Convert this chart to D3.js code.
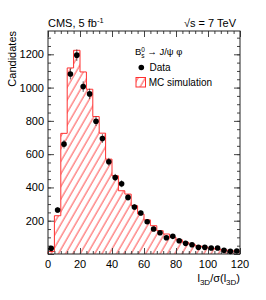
<!DOCTYPE html>
<html>
<head>
<meta charset="utf-8">
<style>
body { margin: 0; background: #fff; }
text { font-family: "Liberation Sans", Arial, sans-serif; fill: #000; }
.axis path { display: none; }
.axis line { stroke: #444; stroke-width: 1px; }
</style>
</head>
<body>
<script src="https://cdn.jsdelivr.net/npm/d3@7"></script>
<script>

// bin lower edges (width 4)
const binLow = [0,4,8,12,16,20,24,28,32,36,40,44,48,52,56,60,64,68,72,76,80,84,88,92,96,100,104,108,112,116];
const binWidth = 4;
// data points
const dataCounts = [34,264,660,1082,1195,1006,962,798,694,554,460,422,340,282,246,194,150,128,98,106,80,64,56,40,40,36,36,22,16,18];
// MC histogram
const mcCounts = [15,230,725,1118,1224,1094,990,826,726,570,470,380,360,290,240,205,170,140,120,100,85,70,58,48,42,35,30,25,20,17];

const xTicks = [0,20,40,60,80,100,120];
const yTicks = [200,400,600,800,1000,1200];

const W = 266, H = 300;
const pLeft = 48, pRight = 240, pTop = 31, pBottom = 254;

const svg = d3.select("body").append("svg")
    .attr("width", W)
    .attr("height", H);

const x = d3.scaleLinear().domain([0, 120]).range([pLeft, pRight]);
const y = d3.scaleLinear().domain([0, 1340]).range([pBottom, pTop]);

// hatch pattern
const defs = svg.append("defs");
defs.append("pattern")
    .attr("id", "hatch")
    .attr("patternUnits", "userSpaceOnUse")
    .attr("width", 6.3)
    .attr("height", 10)
    .attr("patternTransform", "rotate(30)")
  .append("line")
    .attr("x1", 1).attr("y1", 0)
    .attr("x2", 1).attr("y2", 10)
    .attr("stroke", "#ff4d4d")
    .attr("stroke-width", 1);

// MC step outline
let pts = [[x(0), y(0)]];
binLow.forEach(function(b, i) {
  pts.push([x(b), y(mcCounts[i])]);
  pts.push([x(b + binWidth), y(mcCounts[i])]);
});
pts.push([x(120), y(0)]);

svg.append("path")
    .attr("d", d3.line()(pts))
    .attr("fill", "url(#hatch)")
    .attr("stroke", "#ff3030")
    .attr("stroke-width", 1);

// axes (ticks inside)
function addAxis(axisFn, scale, tr, vals, size) {
  const a = axisFn(scale).tickValues(vals).tickSizeInner(size).tickSizeOuter(0).tickFormat("");
  return svg.append("g").attr("class", "axis").attr("transform", tr).call(a);
}
const xMinor = d3.range(0, 121, 4);
const yMinor = d3.range(0, 1341, 50);
const yMajor = d3.range(0, 1341, 200);

addAxis(d3.axisBottom, x, "translate(0," + pBottom + ")", xMinor, -3);
addAxis(d3.axisBottom, x, "translate(0," + pBottom + ")", xTicks, -6);
addAxis(d3.axisTop, x, "translate(0," + pTop + ")", xMinor, -3);
addAxis(d3.axisTop, x, "translate(0," + pTop + ")", xTicks, -6);
addAxis(d3.axisLeft, y, "translate(" + pLeft + ",0)", yMinor, -3);
addAxis(d3.axisLeft, y, "translate(" + pLeft + ",0)", yMajor, -6);
addAxis(d3.axisRight, y, "translate(" + pRight + ",0)", yMinor, -3);
addAxis(d3.axisRight, y, "translate(" + pRight + ",0)", yMajor, -6);

// tick labels
svg.append("g").selectAll("text")
    .data(xTicks)
    .join("text")
    .attr("x", d => x(d))
    .attr("y", 268)
    .attr("text-anchor", "middle")
    .style("font-size", "11px")
    .text(d => d);

svg.append("g").selectAll("text")
    .data(yTicks)
    .join("text")
    .attr("x", 44)
    .attr("y", d => y(d))
    .attr("dy", "0.36em")
    .attr("text-anchor", "end")
    .style("font-size", "11px")
    .text(d => d);

// frame
svg.append("rect")
    .attr("x", pLeft).attr("y", pTop)
    .attr("width", pRight - pLeft).attr("height", pBottom - pTop)
    .attr("fill", "none")
    .attr("stroke", "#222")
    .attr("stroke-width", 1);

// data points with sqrt(N) error bars
const pg = svg.append("g");
pg.selectAll("line")
    .data(dataCounts)
    .join("line")
    .attr("x1", (d, i) => x(binLow[i] + binWidth / 2))
    .attr("x2", (d, i) => x(binLow[i] + binWidth / 2))
    .attr("y1", d => y(d + Math.sqrt(d)))
    .attr("y2", d => y(d - Math.sqrt(d)))
    .attr("stroke", "#333")
    .attr("stroke-width", 0.8);
pg.selectAll("circle")
    .data(dataCounts)
    .join("circle")
    .attr("cx", (d, i) => x(binLow[i] + binWidth / 2))
    .attr("cy", d => y(d))
    .attr("r", 2.8)
    .attr("fill", "#000");

// axis titles
svg.append("text")
    .attr("transform", "translate(16," + pTop + ") rotate(-90)")
    .attr("text-anchor", "end")
    .style("font-size", "11px")
    .text("Candidates");

const xt = svg.append("text")
    .attr("x", pRight)
    .attr("y", 282)
    .attr("text-anchor", "end")
    .style("font-size", "11px");
xt.append("tspan").text("l");
xt.append("tspan").attr("dy", 3).style("font-size", "8px").text("3D");
xt.append("tspan").attr("dy", -3).text("/σ(l");
xt.append("tspan").attr("dy", 3).style("font-size", "8px").text("3D");
xt.append("tspan").attr("dy", -3).text(")");

// header
const cms = svg.append("text")
    .attr("x", 48).attr("y", 26.5)
    .style("font-size", "11px");
cms.append("tspan").text("CMS, 5 fb");
cms.append("tspan").attr("dy", -4).style("font-size", "7.5px").text("-1");

svg.append("text")
    .attr("x", 236).attr("y", 26.5)
    .attr("text-anchor", "end")
    .style("font-size", "11px")
    .text("\u221As = 7 TeV");

// legend
const lt = svg.append("text")
    .attr("x", 135).attr("y", 55)
    .style("font-size", "9.5px");
lt.append("tspan").text("B");
lt.append("tspan").attr("dy", -3.5).style("font-size", "6.5px").text("0");
lt.append("tspan").attr("dx", -3.6).attr("dy", 6).style("font-size", "6.5px").text("s");
lt.append("tspan").attr("dy", -2.5).text(" \u2192 J/\u03C8 \u03C6");

svg.append("circle")
    .attr("cx", 141.3).attr("cy", 67.5)
    .attr("r", 2.8).attr("fill", "#000");
svg.append("text")
    .attr("x", 149.5).attr("y", 71)
    .style("font-size", "10px")
    .text("Data");

svg.append("rect")
    .attr("x", 136).attr("y", 77.5)
    .attr("width", 9.5).attr("height", 9.5)
    .attr("fill", "url(#hatch)")
    .attr("stroke", "#ff3030")
    .attr("stroke-width", 1);
svg.append("text")
    .attr("x", 148.7).attr("y", 86)
    .style("font-size", "10px")
    .text("MC simulation");

</script>
</body>
</html>
